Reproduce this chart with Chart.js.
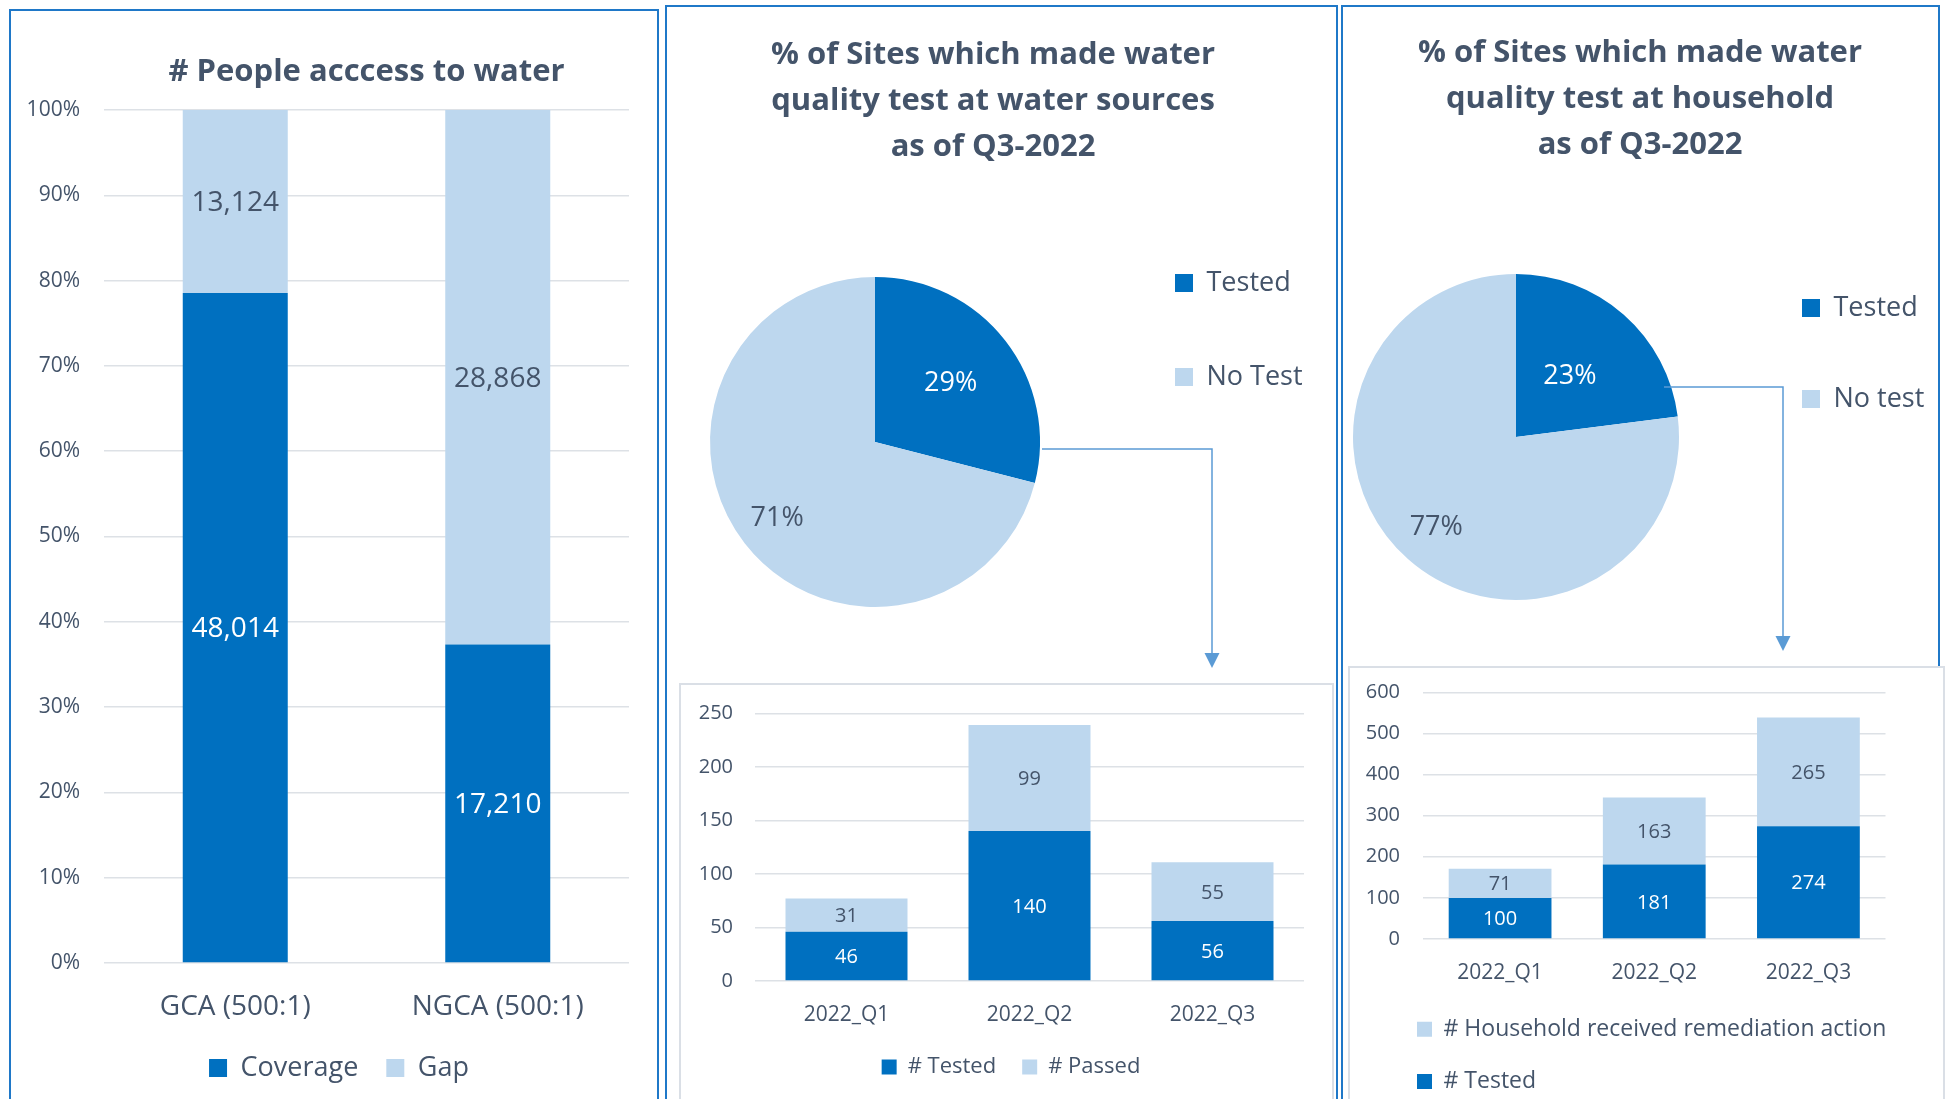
<!DOCTYPE html>
<html>
<head>
<meta charset="utf-8">
<script src="https://cdn.jsdelivr.net/npm/chart.js"></script>
<style>
  html, body { margin: 0; padding: 0; background: #fff; }
  body { width: 1959px; height: 1099px; overflow: hidden; position: relative; }
  .panel { position: absolute; box-sizing: border-box; border: 2px solid #1F78C8; height: 1200px; }
  .box { position: absolute; box-sizing: border-box; border: 2px solid #DADFE6; background: #fff; height: 600px; }
  canvas { position: absolute; }
  svg { position: absolute; left: 0; top: 0; }
</style>
</head>
<body>
<div class="panel" style="left:9px;top:9px;width:650px"></div>
<div class="panel" style="left:665px;top:5px;width:673px"></div>
<div class="panel" style="left:1341px;top:5px;width:599px"></div>
<div class="box" style="left:679px;top:683px;width:655px"></div>
<div class="box" style="left:1348px;top:666px;width:597px"></div>

<canvas id="access" width="644" height="1087" style="left:12px;top:12px"></canvas>
<canvas id="srcPie" width="705" height="652" style="left:640px;top:8px"></canvas>
<canvas id="srcBar" width="651" height="414" style="left:681px;top:685px"></canvas>
<canvas id="hhPie" width="700" height="691" style="left:1290px;top:8px"></canvas>
<canvas id="hhBar" width="593" height="440" style="left:1350px;top:668px"></canvas>

<!-- connectors from the pies down to the quarterly charts -->
<svg width="1959" height="1099">
  <g fill="none" stroke="#5B9BD5" stroke-width="1.5">
    <polyline points="1042,449 1212,449 1212,655"/>
    <polyline points="1664,387 1783,387 1783,638"/>
  </g>
  <g fill="#5B9BD5">
    <polygon points="1204.5,653 1219.5,653 1212,668"/>
    <polygon points="1775.5,636 1790.5,636 1783,651"/>
  </g>
</svg>

<script>
// ---- data ----
const areas = ["GCA (500:1)", "NGCA (500:1)"];
const coverage = [48014, 17210];
const gap = [13124, 28868];

const sourcePieLabels = ["Tested", "No Test"];
const sourcePie = [29, 71];

const householdPieLabels = ["Tested", "No test"];
const householdPie = [23, 77];

const quarters = ["2022_Q1", "2022_Q2", "2022_Q3"];
const sourceTested = [46, 140, 56];
const sourcePassed = [31, 99, 55];
const householdTested = [100, 181, 274];
const householdRemediated = [71, 163, 265];

// ---- look ----
const DARK = "#0070C0";
const LIGHT = "#BDD7EE";
const TEXT = "#44546A";
const GRID = "#DDE1E6";
const FAMILY = '"Open Sans", sans-serif';

Chart.defaults.font.family = FAMILY;
Chart.defaults.color = TEXT;
Chart.defaults.animation = false;
Chart.defaults.responsive = false;
Chart.defaults.plugins.tooltip.enabled = false;

function textWidth(text, size) {
    const ctx = document.createElement("canvas").getContext("2d");
    ctx.font = size + "px " + FAMILY;
    return ctx.measureText(text).width;
}

// y tick labels right-aligned "gap" px left of the plot, drawn as mirrored
// ticks so they are not clipped to the (narrow) axis box
function leftTicks(size, gap, widestLabel, extra) {
    return Object.assign({
        font: { size: size },
        mirror: true,
        crossAlign: "far",
        padding: -(gap + textWidth(widestLabel, size))
    }, extra);
}

// value labels in the middle of every bar segment
function barLabelPlugin(textFor, size) {
    return {
        id: "barLabels",
        afterDatasetsDraw(chart) {
            const ctx = chart.ctx;
            ctx.save();
            ctx.font = size + "px " + FAMILY;
            ctx.textAlign = "center";
            ctx.textBaseline = "middle";
            chart.data.datasets.forEach((ds, d) => {
                chart.getDatasetMeta(d).data.forEach((bar, i) => {
                    ctx.fillStyle = ds.backgroundColor === DARK ? "#fff" : TEXT;
                    ctx.fillText(textFor(d, i), bar.x, (bar.y + bar.base) / 2 + 1.5);
                });
            });
            ctx.restore();
        }
    };
}

// percentage labels inside the pie slices
function pieLabelPlugin(radii, size) {
    return {
        id: "pieLabels",
        afterDatasetsDraw(chart) {
            const ctx = chart.ctx;
            const ds = chart.data.datasets[0];
            ctx.save();
            ctx.font = size + "px " + FAMILY;
            ctx.textAlign = "center";
            ctx.textBaseline = "middle";
            chart.getDatasetMeta(0).data.forEach((arc, i) => {
                const mid = (arc.startAngle + arc.endAngle) / 2;
                const r = arc.outerRadius * radii[i];
                ctx.fillStyle = ds.backgroundColor[i] === DARK ? "#fff" : TEXT;
                ctx.fillText(ds.data[i] + "%", arc.x + Math.cos(mid) * r, arc.y + Math.sin(mid) * r);
            });
            ctx.restore();
        }
    };
}

// empty box to the right of the pie legend: legend + spacer = total
function spacer(total) {
    return {
        type: "linear",
        position: "right",
        weight: 2000,
        grid: { display: false },
        border: { display: false },
        ticks: { display: false },
        afterFit: s => { s.width = Math.max(total - s.chart.legend.width, 0); }
    };
}

// # People access to water (100% stacked)
new Chart(document.getElementById("access"), {
    type: "bar",
    data: {
        labels: areas,
        datasets: [
            { label: "Coverage", data: coverage.map((v, i) => v / (v + gap[i]) * 100), backgroundColor: DARK },
            { label: "Gap", data: gap.map((v, i) => v / (v + coverage[i]) * 100), backgroundColor: LIGHT }
        ]
    },
    options: {
        layout: { padding: { left: 37, right: 27, top: 0, bottom: 7.5 } },
        datasets: { bar: { categoryPercentage: 0.8, barPercentage: 0.5 } },
        scales: {
            x: {
                stacked: true,
                grid: { display: false, drawTicks: false },
                border: { display: false },
                ticks: { padding: 27, font: { size: 28 }, maxRotation: 0 },
                afterFit: s => { s.height = 63.5; }
            },
            y: {
                stacked: true,
                min: 0,
                max: 100,
                grid: { color: GRID, lineWidth: 1.5, drawTicks: false },
                border: { display: false },
                ticks: leftTicks(21, 24, "100%", { stepSize: 10, callback: v => v + "%" }),
                afterFit: s => { s.width = 55; }
            }
        },
        plugins: {
            title: {
                display: true,
                text: "# People acccess to water",
                fullSize: false,
                color: TEXT,
                font: { size: 31, weight: "bold" },
                padding: { top: 41.4, bottom: 19.4 }
            },
            legend: {
                position: "bottom",
                labels: { boxWidth: 18, boxHeight: 18, padding: 28, color: TEXT, font: { size: 27 } }
            }
        }
    },
    plugins: [barLabelPlugin((d, i) => (d === 0 ? coverage : gap)[i].toLocaleString("en-US"), 28)]
});

// water sources pie
new Chart(document.getElementById("srcPie"), {
    type: "pie",
    data: {
        labels: sourcePieLabels,
        datasets: [{ data: sourcePie, backgroundColor: [DARK, LIGHT], borderWidth: 0, radius: 165, clip: false }]
    },
    options: {
        layout: { padding: { left: 2, right: 1, top: 0, bottom: 8 } },
        scales: { pad: spacer(236) },
        plugins: {
            title: {
                display: true,
                text: ["% of Sites which made water", "quality test at water sources", "as of Q3-2022"],
                color: TEXT,
                font: { size: 31, weight: "bold", lineHeight: "46px" },
                padding: { top: 24.5, bottom: 61.5 }
            },
            legend: {
                position: "right",
                align: "center",
                maxWidth: 400,
                labels: { boxWidth: 18, boxHeight: 18, padding: 67, color: TEXT, font: { size: 27 } }
            }
        }
    },
    plugins: [pieLabelPlugin([0.58, 0.75], 27)]
});

// water sources by quarter
new Chart(document.getElementById("srcBar"), {
    type: "bar",
    data: {
        labels: quarters,
        datasets: [
            { label: "# Tested", data: sourceTested, backgroundColor: DARK },
            { label: "# Passed", data: sourcePassed, backgroundColor: LIGHT }
        ]
    },
    options: {
        layout: { padding: { left: 37, right: 28, top: 28.3, bottom: 11 } },
        datasets: { bar: { categoryPercentage: 0.8, barPercentage: 0.8333 } },
        scales: {
            x: {
                stacked: true,
                grid: { display: false, drawTicks: false },
                border: { display: false },
                ticks: { padding: 21.4, font: { size: 21 }, maxRotation: 0 },
                afterFit: s => { s.height = 49; }
            },
            y: {
                stacked: true,
                min: 0,
                max: 250,
                grid: { color: GRID, lineWidth: 1.5, drawTicks: false },
                border: { display: false },
                ticks: leftTicks(20, 22, "250", { stepSize: 50 }),
                afterFit: s => { s.width = 37; }
            }
        },
        plugins: {
            legend: {
                position: "bottom",
                labels: { boxWidth: 15, boxHeight: 15, padding: 26, color: TEXT, font: { size: 22 } }
            }
        }
    },
    plugins: [barLabelPlugin((d, i) => String((d === 0 ? sourceTested : sourcePassed)[i]), 20)]
});

// household pie
new Chart(document.getElementById("hhPie"), {
    type: "pie",
    data: {
        labels: householdPieLabels,
        datasets: [{ data: householdPie, backgroundColor: [DARK, LIGHT], borderWidth: 0, radius: 163, clip: false }]
    },
    options: {
        layout: { padding: { left: 4, right: 4, top: 0, bottom: 0 } },
        scales: { pad: spacer(248) },
        plugins: {
            title: {
                display: true,
                text: ["% of Sites which made water", "quality test at household", "as of Q3-2022"],
                color: TEXT,
                font: { size: 31, weight: "bold", lineHeight: "46px" },
                padding: { top: 22, bottom: 7 }
            },
            legend: {
                position: "right",
                align: "center",
                maxWidth: 400,
                labels: { boxWidth: 18, boxHeight: 18, padding: 64, color: TEXT, font: { size: 27 } }
            }
        }
    },
    plugins: [pieLabelPlugin([0.5, 0.74], 27)]
});

// household by quarter
new Chart(document.getElementById("hhBar"), {
    type: "bar",
    data: {
        labels: quarters,
        datasets: [
            { label: "# Tested", data: householdTested, backgroundColor: DARK },
            { label: "# Household received remediation action", data: householdRemediated, backgroundColor: LIGHT }
        ]
    },
    options: {
        layout: { padding: { left: 37.8, right: 57.5, top: 24.3, bottom: 5.1 } },
        datasets: { bar: { categoryPercentage: 0.8, barPercentage: 0.8333 } },
        scales: {
            x: {
                stacked: true,
                grid: { display: false, drawTicks: false },
                border: { display: false },
                ticks: { padding: 21, font: { size: 21 }, maxRotation: 0 },
                afterFit: s => { s.height = 49.5; }
            },
            y: {
                stacked: true,
                min: 0,
                max: 600,
                grid: { color: GRID, lineWidth: 1.5, drawTicks: false },
                border: { display: false },
                ticks: leftTicks(20, 23, "600", { stepSize: 100 }),
                afterFit: s => { s.width = 35.2; }
            }
        },
        plugins: {
            legend: {
                position: "bottom",
                align: "start",
                reverse: true,
                labels: { boxWidth: 15, boxHeight: 15, padding: 29.2, color: TEXT, font: { size: 23 } }
            }
        }
    },
    plugins: [barLabelPlugin((d, i) => String((d === 0 ? householdTested : householdRemediated)[i]), 20)]
});
</script>
</body>
</html>
